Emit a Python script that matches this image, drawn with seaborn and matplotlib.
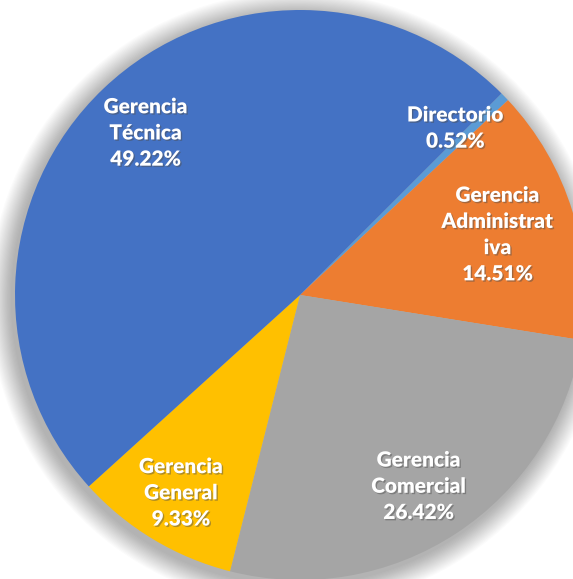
import numpy as np
import matplotlib
matplotlib.use("Agg")
import matplotlib.pyplot as plt
import matplotlib.patheffects as pe
from matplotlib.patches import Circle
import seaborn as sns

# data, in the order the slices run clockwise from the top right
areas = ["Directorio", "Gerencia\nAdministrat\niva", "Gerencia\nComercial",
         "Gerencia\nGeneral", "Gerencia\nTécnica"]
shares = [0.52, 14.51, 26.42, 9.33, 49.22]
colors = ["#5B9BD5", "#ED7D31", "#A5A5A5", "#FFC000", "#4472C4"]

sns.set_theme(style="white")
plt.rcParams["font.family"] = ["Lato", "DejaVu Sans"]

W, H = 573, 579
fig = plt.figure(figsize=(W / 100, H / 100), dpi=100)
cx, cy, r = 300, 295, 285
ax = fig.add_axes([(cx - r) / W, (H - cy - r) / H, 2 * r / W, 2 * r / H])

# soft shadow round the pie
for k in range(20):
    ax.add_patch(Circle((-0.01, -0.015), 1.0 + 0.004 * (k + 1),
                        color="black", alpha=0.014, lw=0, zorder=0,
                        clip_on=False))

wedges, _ = ax.pie(shares, colors=colors, startangle=45, counterclock=False,
                   radius=1.0, wedgeprops=dict(linewidth=0))
for w in wedges:
    w.set_zorder(2)

ax.set_xlim(-1, 1)
ax.set_ylim(-1, 1)
ax.set_aspect("equal")
ax.axis("off")

# label distance per slice (Directorio is nudged off its small slice)
dist = [0.80, 0.725, 0.79, 0.81, 0.785]
shift = [3.0, 0.0, -1.5, 0.0, 0.0]
for w, name, val, d, s in zip(wedges, areas, shares, dist, shift):
    ang = np.deg2rad((w.theta1 + w.theta2) / 2 + s)
    t = ax.text(d * np.cos(ang), d * np.sin(ang), f"{name}\n{val:.2f}%",
                ha="center", va="center", color="white", fontsize=15,
                fontweight="heavy", linespacing=1.45, zorder=5)
    t.set_path_effects([pe.SimplePatchShadow(offset=(1, -1), alpha=0.45),
                        pe.Normal()])

fig.savefig("out.png", dpi=100, facecolor="white")
